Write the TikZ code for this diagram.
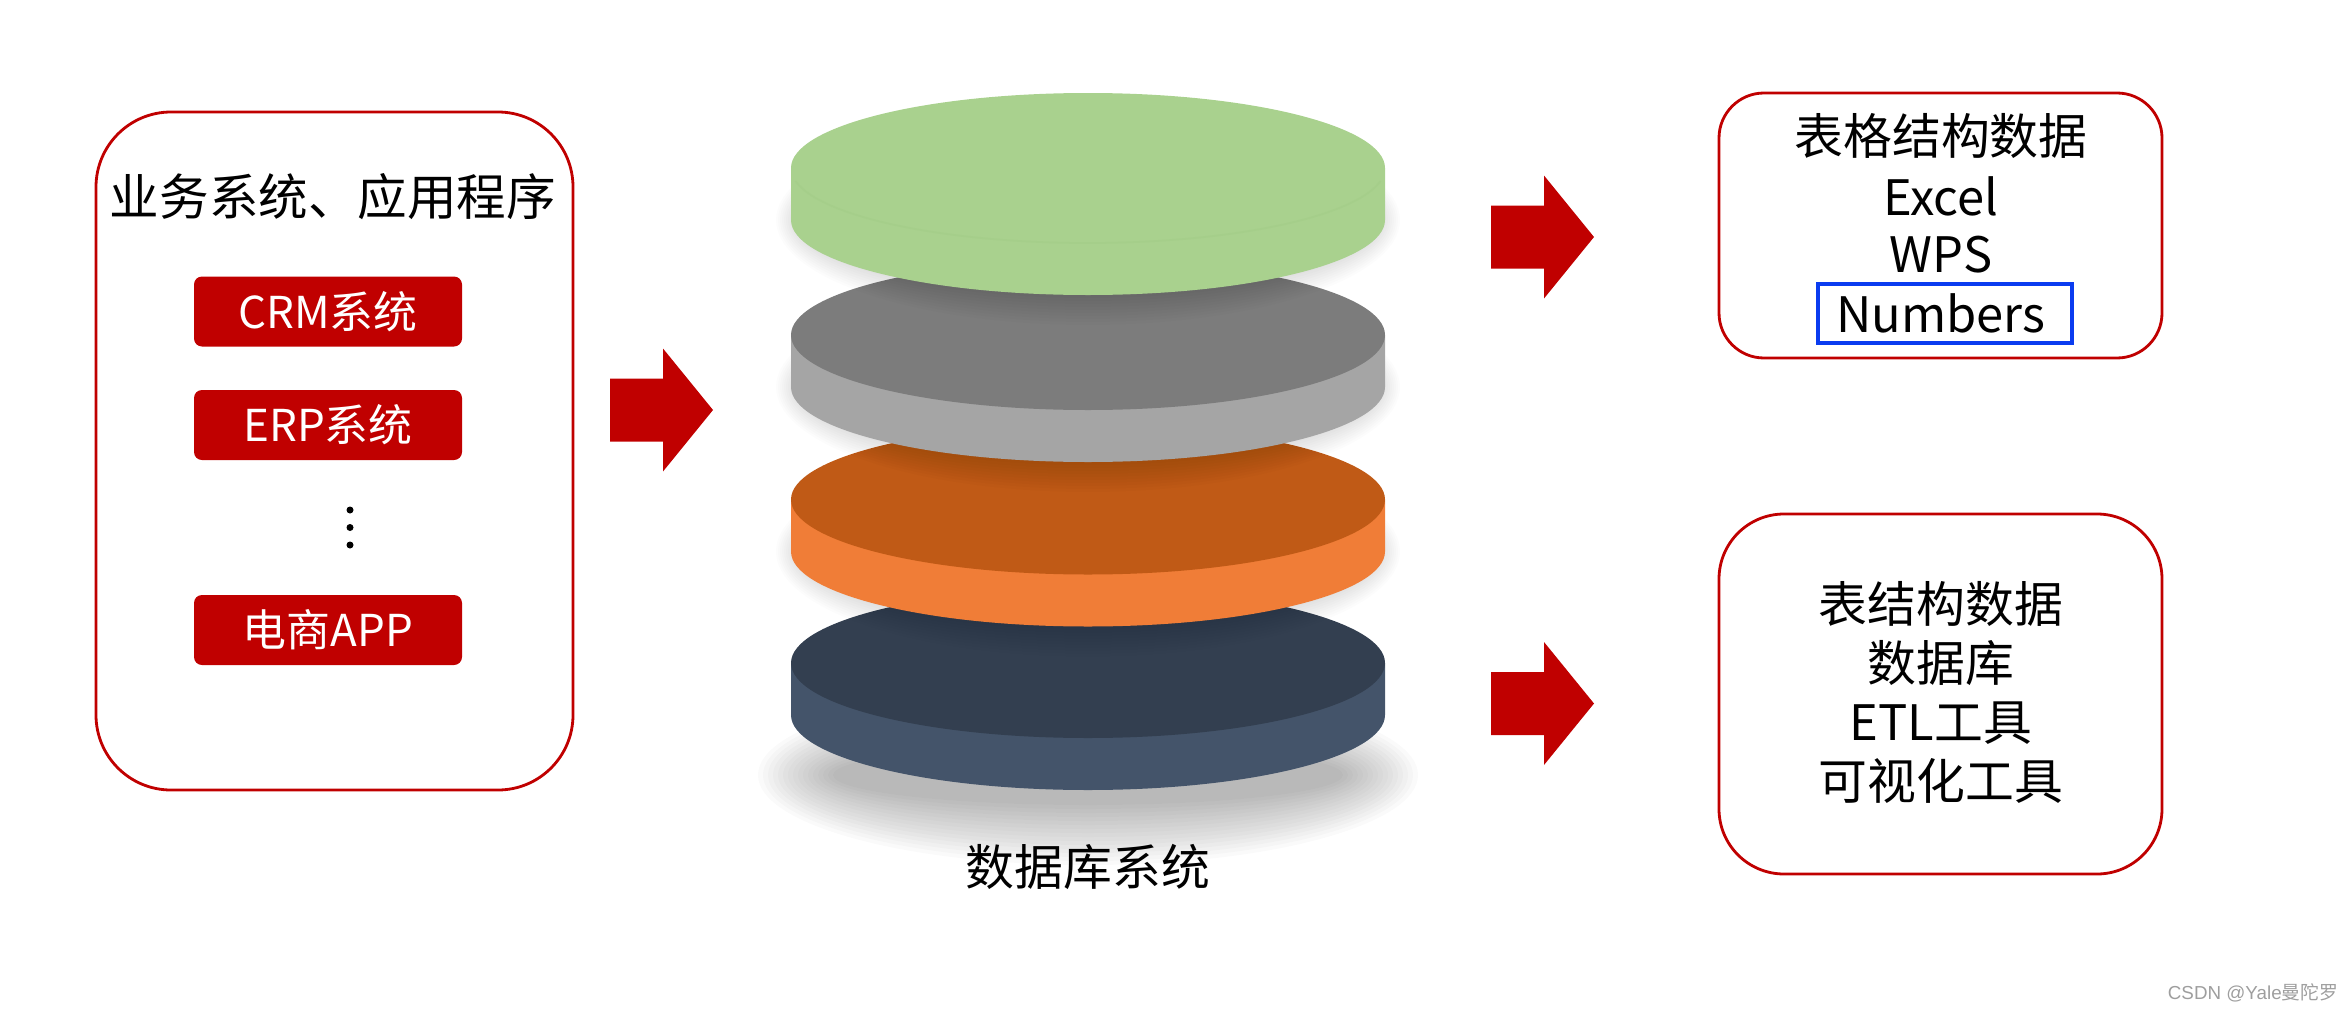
\documentclass[tikz,border=0pt]{standalone}
\usepackage{fontspec}
\setmainfont{Noto Sans CJK SC}
\newfontfamily\markfont{Liberation Sans}
\definecolor{deepred}{HTML}{C00000}
\definecolor{numblue}{HTML}{0A3CF0}
\definecolor{greentop}{HTML}{A9D18E}
\definecolor{greenline}{HTML}{A5CE8A}
\definecolor{graytop}{HTML}{7C7C7C}
\definecolor{grayside}{HTML}{A5A5A5}
\definecolor{orangetop}{HTML}{C05A16}
\definecolor{orangeside}{HTML}{F07D37}
\definecolor{navytop}{HTML}{333F50}
\definecolor{navyside}{HTML}{44546A}
\tikzset{
    outline/.style={draw=deepred, line width=0.8pt, rounded corners=#1},
    tag/.style={fill=deepred, text=white, rounded corners=0.08cm, minimum width=2.68cm, minimum height=0.70cm, inner sep=0pt, font=\fontsize{12.5}{14}\selectfont},
    bigtext/.style={inner sep=0pt, font=\fontsize{13.9}{16}\selectfont}
}
\begin{document}
\begin{tikzpicture}
    \useasboundingbox (0, 0) rectangle (23.52, 10.12);

    % left box
    \node [outline=0.75cm, minimum width=4.77cm, minimum height=6.78cm] (apps) at (3.345, 5.61) {};
    \node [bigtext, font=\fontsize{14.1}{16}\selectfont] (appstitle) at (3.33, 8.15) {业务系统、应用程序};
    \node [tag] (crm) at (3.28, 7.005) {CRM系统};
    \node [tag] (erp) at (3.28, 5.87) {ERP系统};
    \node [tag] (shop) at (3.28, 3.82) {电商APP};
    \fill (3.5, 5.02) circle (0.035);
    \fill (3.5, 4.845) circle (0.035);
    \fill (3.5, 4.67) circle (0.035);

    % arrows
    \foreach \ax/\ay in {6.10/6.02, 14.91/7.75, 14.91/3.085}
        \fill [deepred] (\ax, \ay + 0.315) -- (\ax + 0.53, \ay + 0.315) -- (\ax + 0.53, \ay + 0.615)
            -- (\ax + 1.03, \ay) -- (\ax + 0.53, \ay - 0.615) -- (\ax + 0.53, \ay - 0.315)
            -- (\ax, \ay - 0.315) -- cycle;

    % shadow under the stack
    \foreach \i in {0, ..., 15}
        \fill [black, opacity=0.02] (10.88, 2.37) ellipse ({3.30 - 0.05 * \i} and {0.90 - 0.04 * \i});

    % disks
    \foreach \cy/\topc/\sidec/\shade in {3.49/navytop/navyside/0, 5.125/orangetop/orangeside/0.012, 6.77/graytop/grayside/0.012, 8.44/greentop/greentop/0.012} {
        \foreach \i in {0, ..., 11}
            \fill [black, opacity=\shade] (10.88, \cy - 0.52) ellipse ({3.12 - 0.02 * \i} and {1.05 - 0.03 * \i});
        \fill [\sidec] (7.91, \cy) -- (7.91, \cy - 0.52) arc [start angle=180, end angle=360, x radius=2.97, y radius=0.75] -- (13.85, \cy) -- cycle;
        \fill [\topc] (10.88, \cy) ellipse (2.97 and 0.75);
    }
    \draw [greenline, line width=0.5pt] (10.88, 8.44) ++(190:2.97 and 0.75) arc [start angle=190, end angle=350, x radius=2.97, y radius=0.75];
    \node [bigtext] (dbname) at (10.88, 1.45) {数据库系统};

    % top right box
    \node [outline=0.45cm, minimum width=4.43cm, minimum height=2.65cm] (sheets) at (19.405, 7.865) {};
    \node [bigtext] (sheetstitle) at (19.41, 8.76) {表格结构数据};
    \node [bigtext] (excel) at (19.41, 8.16) {Excel};
    \node [bigtext] (wps) at (19.41, 7.57) {WPS};
    \node [draw=numblue, line width=1pt, minimum width=2.54cm, minimum height=0.59cm] (numbersbox) at (19.45, 6.985) {};
    \node [bigtext] (numbers) at (19.41, 6.985) {Numbers};

    % bottom right box
    \node [outline=0.65cm, minimum width=4.43cm, minimum height=3.60cm] (tables) at (19.405, 3.18) {};
    \node [bigtext] (tablesname) at (19.41, 4.08) {表结构数据};
    \node [bigtext] (database) at (19.41, 3.49) {数据库};
    \node [bigtext] (etl) at (19.41, 2.89) {ETL工具};
    \node [bigtext] (charts) at (19.41, 2.31) {可视化工具};

    \node [inner sep=0pt, text=black!38, font=\fontsize{5.35}{7}\selectfont] (mark) at (22.53, 0.19) {\markfont CSDN @Yale\normalfont 曼陀罗};
\end{tikzpicture}
\end{document}
